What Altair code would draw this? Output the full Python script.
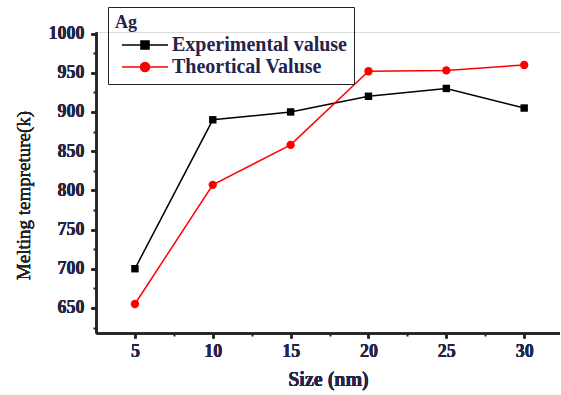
import altair as alt
import pandas as pd

sizes = [5, 10, 15, 20, 25, 30]
experimental = [700, 890, 900, 920, 930, 905]
theoretical = [655, 807, 858, 952, 953, 960]
series_names = ["Experimental valuse", "\u00a0Theortical Valuse"]
series_colors = ["#000000", "#ff0000"]
# legend glyphs: a line segment with the marker in its middle (units of 10 px)
legend_paths = [
    "M-0.4,0H4.2M1.5,-0.4H2.3V0.4H1.5Z",
    "M-0.4,0H4.2M2.35,0A0.45,0.45,0,1,1,1.45,0A0.45,0.45,0,1,1,2.35,0Z",
]
x_ticks = [5, 10, 15, 20, 25, 30]
x_minor = [7.5, 12.5, 17.5, 22.5, 27.5]
y_ticks = [650, 700, 750, 800, 850, 900, 950, 1000]
y_minor = [625, 675, 725, 775, 825, 875, 925, 975]

df = pd.DataFrame({
    "size": sizes * 2,
    "temp": experimental + theoretical,
    "series": [series_names[0]] * len(sizes) + [series_names[1]] * len(sizes),
})

FONT = "Liberation Serif"
TXT = "#24244a"

xs = alt.Scale(domain=[2.5, 32.3], nice=False, zero=False)
ys = alt.Scale(domain=[618, 1002], nice=False, zero=False)

x_main = alt.X("size:Q", scale=xs, title="Size (nm)",
               axis=alt.Axis(values=x_ticks, format="d", orient="bottom", grid=False, tickSize=5, tickWidth=2,
                             domainWidth=2, domainColor="#222", tickColor="#222",
                             labelFont=FONT, labelFontSize=18, labelFontWeight="bold", labelColor=TXT,
                             labelPadding=4, titleFont=FONT, titleFontSize=20, titleFontWeight="bold",
                             titleColor=TXT, titlePadding=9))
y_main = alt.Y("temp:Q", scale=ys, title="Melting tempreture(k)",
               axis=alt.Axis(values=y_ticks, format="d", orient="left", grid=False, tickSize=5, tickWidth=2,
                             domainWidth=2, domainColor="#222", tickColor="#222",
                             labelFont=FONT, labelFontSize=18, labelFontWeight="bold", labelColor=TXT,
                             labelPadding=7, titleFont=FONT, titleFontSize=19, titleFontWeight="normal",
                             titleColor="#222", titlePadding=15, titleY=163))

x_min = alt.X("size:Q", scale=xs, title=None,
              axis=alt.Axis(values=x_minor, orient="bottom", labels=False, domain=False, grid=False,
                            tickSize=3, tickWidth=2, tickColor="#222"))
y_min = alt.Y("temp:Q", scale=ys, title=None,
              axis=alt.Axis(values=y_minor, orient="left", labels=False, domain=False, grid=False,
                            tickSize=3, tickWidth=2, tickColor="#222"))

base = alt.Chart(df)

lines = []
for name, col, shp, sz in [(series_names[0], series_colors[0], "square", 55),
                           (series_names[1], series_colors[1], "circle", 70)]:
    f = base.transform_filter(alt.datum.series == name)
    lines.append(f.mark_line(color=col, strokeWidth=1.5).encode(x=x_main, y=y_main))
    lines.append(f.mark_point(filled=True, shape=shp, size=sz, color=col, opacity=1).encode(x=x_main, y=y_main))

sc_dom = alt.Scale(domain=series_names, range=series_colors)
leg = alt.Legend(title="\u00a0Ag", orient="none", legendX=12, legendY=-25, symbolSize=400,
                 symbolStrokeWidth=1.6, symbolOpacity=1, strokeColor="#222",
                 padding=7, titleFont=FONT, titleFontSize=18, titleFontWeight="bold", titleColor=TXT,
                 labelFont=FONT, labelFontSize=20, labelFontWeight="bold", labelColor=TXT,
                 labelOffset=35, rowPadding=1, titlePadding=2, labelLimit=400)
helper = base.mark_point(filled=True, opacity=0).encode(
    x=x_min, y=y_min,
    fill=alt.Fill("series:N", scale=sc_dom, legend=leg),
    stroke=alt.Stroke("series:N", scale=sc_dom, legend=leg),
    shape=alt.Shape("series:N", scale=alt.Scale(domain=series_names, range=legend_paths), legend=leg),
)

chart = alt.layer(helper, *lines).resolve_axis(x="independent", y="independent").properties(
    width=464, height=301,
    padding={"left": 96, "top": 32, "right": 0, "bottom": 62},
    autosize=alt.AutoSizeParams(type="none"),
).configure_view(stroke=None).configure(background="white")

chart.save("out.html", embed_options={"renderer": "svg", "actions": False})
